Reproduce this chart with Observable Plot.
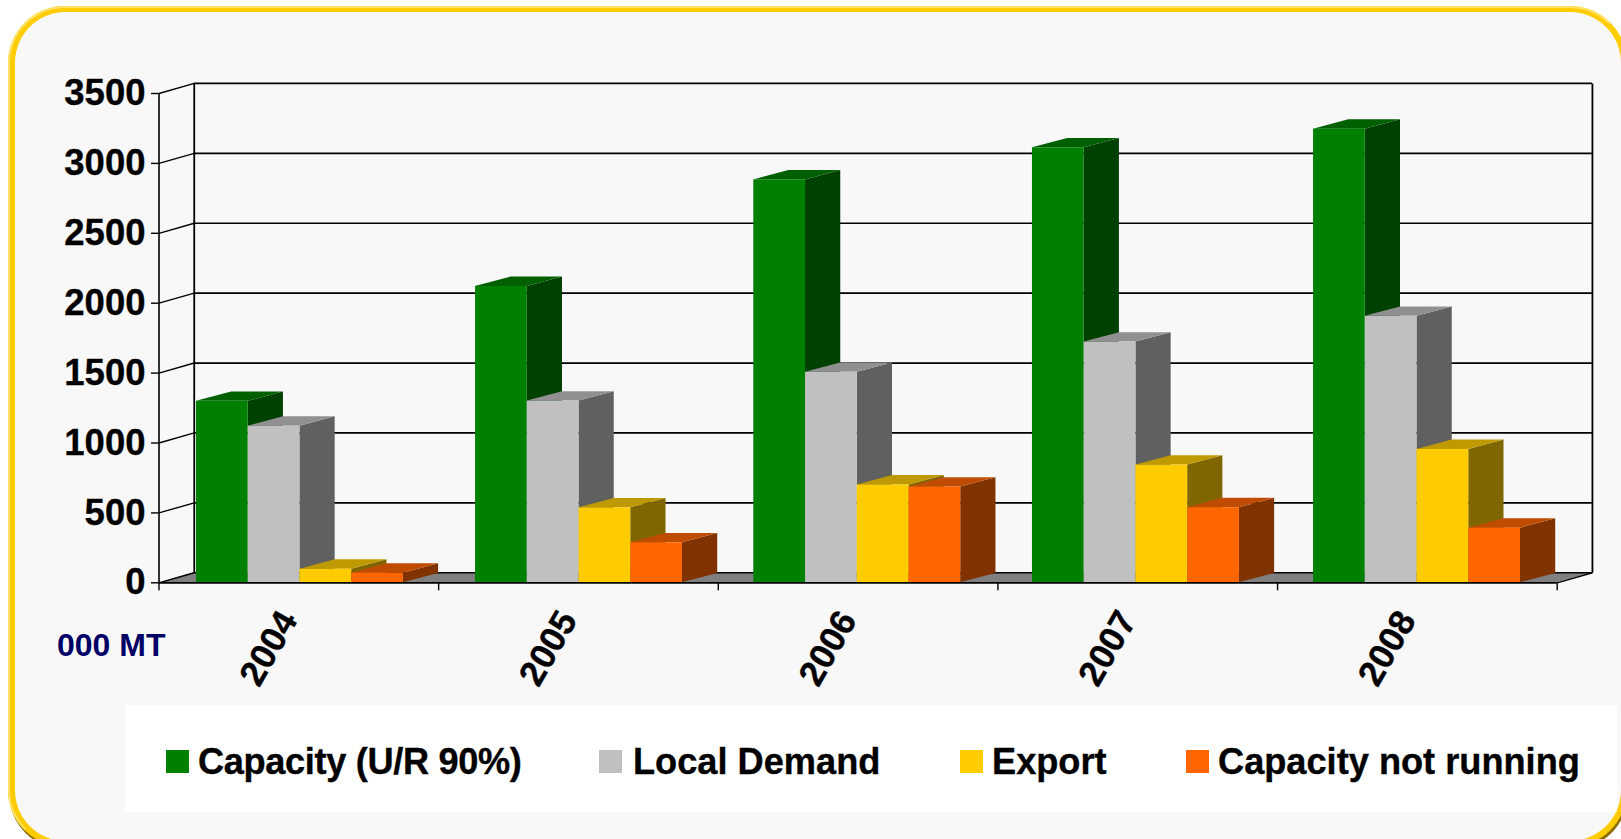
<!DOCTYPE html>
<html><head><meta charset="utf-8">
<script src="https://cdn.jsdelivr.net/npm/d3@7"></script>
<script src="https://cdn.jsdelivr.net/npm/@observablehq/plot@0.6"></script>
<style>
html,body{margin:0;padding:0;width:1621px;height:839px;overflow:hidden;background:#fff;font-family:"Liberation Sans",Arial,sans-serif}
#frame{position:absolute;left:8px;top:6px;width:1619px;height:841px;box-sizing:border-box;border:6px solid #FFCC00;border-left-width:7px;border-radius:57px;background:#F8F8F8;box-shadow:1px 3px 0 #8A6E00}
#frame:before{content:"";position:absolute;left:-7px;top:-6px;right:-6px;bottom:-6px;border:2px solid transparent;border-top-color:#FFE266;border-left-color:#FFE266;border-radius:57px;box-sizing:border-box}
#chart{position:absolute;left:0;top:0}
#chart svg text{stroke:#000;stroke-width:.35px}
#legend{position:absolute;left:125px;top:705px;width:1492px;height:107px;background:#fff}
.sw{position:absolute;top:45px;width:23px;height:23px}
.lb{position:absolute;top:3px;height:107px;line-height:107px;font-weight:bold;font-size:36.2px;color:#000;white-space:nowrap;-webkit-text-stroke:.35px #000}
#unit{position:absolute;left:57px;top:627px;font-size:32px;line-height:36px;font-weight:bold;color:#000066}
</style></head>
<body>
<div id="frame"></div>
<div id="chart"></div>
<div id="unit">000 MT</div>
<div id="legend"></div>
<script>
const years = ["2004","2005","2006","2007","2008"];
const capacity = [1298,2120,2882,3112,3245];
const localDemand = [1120,1300,1506,1722,1906];
const exportVol = [97,536,700,842,954];
const notRunning = [69,286,685,537,391];
const seriesNames = ["Capacity (U/R 90%)","Local Demand","Export","Capacity not running"];
const seriesValues = [capacity,localDemand,exportVol,notRunning];
const frontColors = ["#008000","#C0C0C0","#FFCC00","#FF6600"];
const sideColors = ["#004000","#606060","#806600","#803300"];
const topColors = ["#006000","#909090","#BF9900","#BF4C00"];
const yTicks = [0,500,1000,1500,2000,2500,3000,3500];
const legendSwatchX = [41,474,835,1061];
const legendTextX = [73,508,867,1093];
const legendSpacing = [-0.35,0,0,0];
const groupStart = [0.134,0.132,0.127,0.1235,0.1287];

// depth of the 3D box in scale units
const depthX = 0.126, depthY = 72, barDepthY = 67;
const barW = 0.185;
const nCat = years.length;

const barMarks = seriesNames.flatMap((name,s) => {
  const rows = years.map((yr,i) => ({i, x0:i+groupStart[i]+s*barW, x1:i+groupStart[i]+(s+1)*barW, v:seriesValues[s][i]}));
  const side = rows.flatMap(r => [
    {i:r.i, x:r.x1, y1:0, y2:r.v},
    {i:r.i, x:r.x1+depthX, y1:barDepthY, y2:r.v+barDepthY}]);
  const top = rows.flatMap(r => [
    {i:r.i, y:r.v, x1:r.x0, x2:r.x1},
    {i:r.i, y:r.v+barDepthY, x1:r.x0+depthX, x2:r.x1+depthX}]);
  return [
    Plot.areaY(side,{x:"x",y1:"y1",y2:"y2",z:"i",fill:sideColors[s],curve:"linear"}),
    Plot.areaX(top,{y:"y",x1:"x1",x2:"x2",z:"i",fill:topColors[s],curve:"linear"}),
    Plot.rect(rows,{x1:"x0",x2:"x1",y1:0,y2:"v",fill:frontColors[s]})
  ];
});

const chart = Plot.plot({
  width:1621,height:839,
  marginLeft:158.5,marginRight:64.3,marginTop:93,marginBottom:256.7,
  style:{background:"transparent",fontFamily:"'Liberation Sans',Arial,sans-serif",overflow:"visible"},
  x:{domain:[0,nCat],axis:null},
  y:{domain:[0,3500],axis:null},
  marks:[
    Plot.areaX([{y:0,x1:0,x2:nCat},{y:depthY,x1:depthX,x2:nCat+depthX}],{y:"y",x1:"x1",x2:"x2",fill:"#808080",curve:"linear"}),
    Plot.ruleY(yTicks,{y:d=>d+depthY,x1:depthX,x2:nCat+depthX,stroke:"#000",strokeWidth:1.7}),
    Plot.link(yTicks,{x1:0,y1:d=>d,x2:depthX,y2:d=>d+depthY,stroke:"#000",strokeWidth:1.4}),
    Plot.link([0,nCat],{x1:d=>d+depthX,x2:d=>d+depthX,y1:depthY,y2:3500+depthY,stroke:"#000",strokeWidth:1.8}),
    Plot.link([0],{x1:nCat,y1:0,x2:nCat+depthX,y2:depthY,stroke:"#000",strokeWidth:1.4}),
    Plot.ruleX([0],{y1:0,y2:3500,stroke:"#000",strokeWidth:1.6}),
    ...barMarks,
    Plot.ruleY([0],{x1:0,x2:nCat,stroke:"#000",strokeWidth:1.8}),
    Plot.axisY({ticks:yTicks,tickSize:7.5,tickPadding:6,fontSize:36.5,fontWeight:"bold",label:null,stroke:"#000",strokeWidth:1.4,fill:"#000",tickFormat:d=>String(d)}),
    Plot.axisX({ticks:d3.range(nCat+1),tickSize:8,tickFormat:()=>"",label:null,stroke:"#000",strokeWidth:1.4}),
    Plot.text(years,{x:(d,i)=>i+0.5,y:0,text:d=>d,dx:-30,dy:65.5,rotate:-60,fontSize:35.5,fontWeight:"bold",fill:"#000",textAnchor:"middle"})
  ]
});
document.getElementById("chart").appendChild(chart);

const legend = document.getElementById("legend");
seriesNames.forEach((name,s)=>{
  const sw=document.createElement("div");sw.className="sw";sw.style.left=legendSwatchX[s]+"px";sw.style.background=frontColors[s];legend.appendChild(sw);
  const lb=document.createElement("div");lb.className="lb";lb.style.left=legendTextX[s]+"px";lb.style.letterSpacing=legendSpacing[s]+"px";lb.textContent=name;legend.appendChild(lb);
});
</script>
</body></html>
